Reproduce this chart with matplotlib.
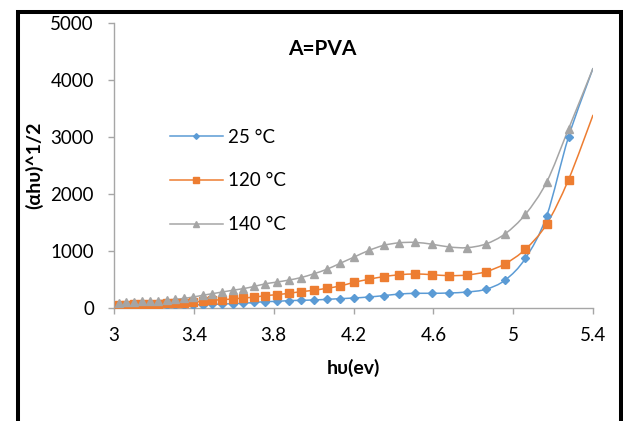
import numpy as np
import matplotlib.pyplot as plt
from matplotlib.path import Path
from matplotlib.patches import PathPatch, Rectangle
from matplotlib.lines import Line2D

# photon energy (eV) and (alpha h nu)^1/2 for the three temperatures
energy = [3.024, 3.062, 3.100, 3.139, 3.179, 3.221, 3.263, 3.307, 3.351, 3.397,
          3.444, 3.493, 3.543, 3.594, 3.647, 3.701, 3.758, 3.815, 3.875, 3.937,
          4.000, 4.066, 4.133, 4.203, 4.276, 4.351, 4.429, 4.509, 4.593, 4.679,
          4.769, 4.863, 4.960, 5.061, 5.167, 5.277, 5.400]

t25 = [41, 41, 41, 41, 41, 47, 47, 47, 53, 53,
       59, 64, 70, 76, 82, 97, 111, 117, 129, 135,
       141, 152, 164, 176, 193, 217, 245, 258, 258, 264,
       281, 329, 492, 873, 1612, 3005, 4213]

t120 = [59, 59, 64, 70, 70, 76, 82, 88, 94, 105,
        117, 135, 147, 158, 176, 190, 217, 234, 258, 287,
        311, 346, 387, 451, 504, 551, 583, 598, 585, 568,
        580, 638, 779, 1032, 1471, 2255, 3392]

t140 = [94, 100, 105, 117, 123, 129, 141, 152, 170, 193,
        223, 252, 281, 311, 340, 378, 425, 455, 490, 535,
        600, 680, 785, 895, 1010, 1100, 1145, 1152, 1120, 1072,
        1060, 1125, 1305, 1646, 2210, 3145, 4213]

labels = ["25 °C", "120 °C", "140 °C"]
colors = ["#5B9BD5", "#ED7D31", "#A5A5A5"]
markers = ["D", "s", "^"]
msizes = [3.6, 5.5, 5.5]

FONT = ['Lato', 'DejaVu Sans']
plt.rcParams['font.family'] = FONT


def smooth_path(x, y):
    # Excel-like smoothed line: cubic Bezier segments through the points
    p = np.column_stack([x, y]).astype(float)
    n = len(p)
    verts = [p[0]]
    codes = [Path.MOVETO]
    for i in range(n - 1):
        p0 = p[i - 1] if i > 0 else p[i]
        p3 = p[i + 2] if i + 2 < n else p[i + 1]
        c1 = p[i] + (p[i + 1] - p0) / 6.0
        c2 = p[i + 1] - (p3 - p[i]) / 6.0
        verts += [c1, c2, p[i + 1]]
        codes += [Path.CURVE4] * 3
    return Path(verts, codes)


fig = plt.figure(figsize=(6.23, 4.21), dpi=100)
ax = fig.add_axes([0.183, 0.2684, 0.769, 0.6763])

handles = []
for ys, lab, c, m, ms in zip([t25, t120, t140], labels, colors, markers, msizes):
    patch = PathPatch(smooth_path(energy, ys), facecolor='none', edgecolor=c,
                      lw=1.1, zorder=2)
    ax.add_patch(patch)
    ax.plot(energy[:-1], ys[:-1], ls='none', marker=m, ms=ms, color=c, zorder=3)
    handles.append(Line2D([], [], color=c, lw=1.1, marker=m, ms=ms * 0.8))

ax.set_xlim(3, 5.4)
ax.set_ylim(0, 5000)
ax.set_xticks([3, 3.4, 3.8, 4.2, 4.6, 5, 5.4])
ax.set_xticklabels(["3", "3.4", "3.8", "4.2", "4.6", "5", "5.4"])
ax.set_yticks([0, 1000, 2000, 3000, 4000, 5000])

for s in ['top', 'right']:
    ax.spines[s].set_visible(False)
for s in ['left', 'bottom']:
    ax.spines[s].set_color('#A6A6A6')
    ax.spines[s].set_linewidth(1.0)
ax.tick_params(axis='both', colors='#A6A6A6', labelcolor='black',
               labelsize=13.5, length=4, width=1.0, direction='out')
ax.tick_params(axis='x', pad=9.7)
ax.tick_params(axis='y', pad=10.4)

ax.text(0.435, 0.91, "A=PVA", transform=ax.transAxes, ha='center', va='center',
        fontsize=15, fontweight='bold')
ax.set_xlabel("hυ(ev)", fontsize=14, fontweight='bold', labelpad=10.5)
ax.set_ylabel("(αhυ)^1/2", fontsize=14, fontweight='bold', labelpad=5)

ax.legend(handles, labels, loc='upper left', bbox_to_anchor=(0.117, 0.630),
          frameon=False, fontsize=13.5, handlelength=2.8, handletextpad=0.3,
          labelspacing=1.43, borderpad=0, borderaxespad=0)

# outer black frame (bottom edge runs off the image)
fig.add_artist(Rectangle((17.7 / 623, -0.1), (621 - 17.7) / 623, 1.1 - 11.5 / 421,
                         transform=fig.transFigure, fill=False,
                         edgecolor='black', lw=2.9, clip_on=False))

fig.savefig("out.png", dpi=100)
